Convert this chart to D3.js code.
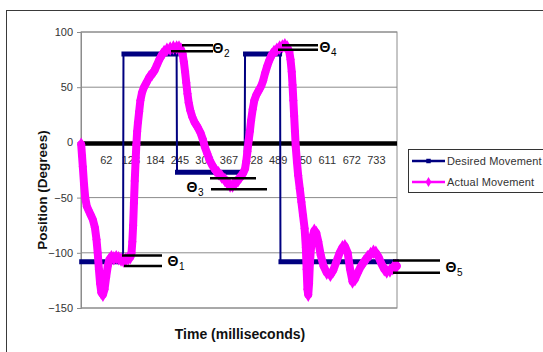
<!DOCTYPE html>
<html>
<head>
<meta charset="utf-8">
<script src="https://cdn.jsdelivr.net/npm/d3@7/dist/d3.min.js"></script>
<style>
  html, body { margin: 0; padding: 0; background: #fff; }
  svg { display: block; }
  text { font-family: "Liberation Sans", Arial, sans-serif; }
</style>
</head>
<body>
<svg id="chart" width="543" height="352"></svg>
<script>
// ---------------- DATA ----------------
const xTickLabels = [1, 62, 123, 184, 245, 306, 367, 428, 489, 550, 611, 672, 733];
const yTickValues = [100, 50, 0, -50, -100, -150];
const sampleCount = 785;

// Desired movement: step segments (first sample, last sample, position)
const desiredStart = [1, 106, 239, 408, 496];
const desiredEnd   = [105, 238, 407, 495, 785];
const desiredPos   = [-108, 80, -27, 80, -108];

// Actual movement: sample index and position (degrees)
const actualTime = [1,3,5,8,11,15,20,25,30,35,39,42,45,48,51,55,59,63,67,71,76,82,88,94,100,106,112,118,123,126,128,130,132,134,136,138,140,142,145,148,152,157,163,170,177,183,189,195,201,207,214,222,230,238,244,249,253,256,259,262,265,268,272,277,283,290,297,303,308,314,320,327,334,342,350,358,365,371,377,384,391,397,403,408,411,414,417,420,423,427,431,436,442,448,453,458,463,468,474,480,487,494,501,507,513,518,521,524,526,528,530,532,534,537,540,544,548,552,556,559,561,563,565,567,569,572,576,580,585,590,596,603,611,620,627,635,643,650,656,663,669,675,681,688,696,704,712,720,727,733,740,747,754,760,768,775,780,785];
const actualPos  = [-2,-12,-22,-38,-50,-58,-62,-66,-70,-77,-88,-100,-115,-128,-136,-138,-133,-122,-112,-106,-104,-105,-104,-105,-106,-107,-106,-105,-104,-100,-90,-75,-55,-35,-18,-2,10,18,28,38,45,50,54,59,62,65,70,75,79,82,84,85,86,86,86,84,80,73,64,54,44,36,29,23,18,14,9,3,-4,-10,-16,-21,-25,-28,-31,-34,-37,-39,-39,-37,-34,-31,-28,-24,-17,-8,2,10,20,30,38,43,47,51,56,63,69,74,79,82,84,86,87,88,86,82,75,64,52,38,24,10,-4,-18,-30,-42,-54,-66,-78,-95,-115,-133,-138,-128,-110,-95,-85,-80,-82,-90,-102,-112,-118,-120,-116,-108,-100,-95,-94,-100,-115,-126,-124,-118,-112,-108,-104,-101,-99,-100,-104,-110,-115,-117,-116,-114,-112,-112];

// Annotation labels (theta markers) with the two positions they bracket
const annoLabels = ["1", "2", "3", "4", "5"];
const annoUpper  = [-102.5, 88, -32.5, 88, -107];
const annoLower  = [-112, 82.5, -42.5, 84, -118];

// ---------------- CHART ----------------
const svg = d3.select("#chart");
const plot = { left: 81, right: 397, top: 32, bottom: 308 };

const x = d3.scaleLinear().domain([0.5, sampleCount + 0.5]).range([plot.left, plot.right]);
const y = d3.scaleLinear().domain([-150, 100]).range([plot.bottom, plot.top]);

// outer chart frame
svg.append("rect").attr("x", 6.5).attr("y", 10.5).attr("width", 600).attr("height", 400)
  .attr("fill", "#fff").attr("stroke", "#3a3a3a").attr("stroke-width", 1);

// plot area
svg.append("rect").attr("x", plot.left).attr("y", plot.top)
  .attr("width", plot.right - plot.left).attr("height", plot.bottom - plot.top)
  .attr("fill", "#fff").attr("stroke", "#8c8c8c").attr("stroke-width", 1);

// gridlines
svg.append("g").selectAll("line").data(yTickValues.filter(v => v !== 0))
  .join("line")
  .attr("x1", plot.left).attr("x2", plot.right)
  .attr("y1", d => y(d)).attr("y2", d => y(d))
  .attr("stroke", "#8c8c8c").attr("stroke-width", 1);

// y axis
const yAxis = svg.append("g").attr("transform", `translate(${plot.left},0)`)
  .call(d3.axisLeft(y).tickValues(yTickValues).tickSize(4).tickPadding(4));
yAxis.select(".domain").attr("stroke", "#8c8c8c");
yAxis.selectAll(".tick line").attr("stroke", "#8c8c8c");
yAxis.selectAll("text").attr("font-size", 11).attr("fill", "#333")
  .attr("font-family", "'Liberation Sans', Arial, sans-serif");

// x axis labels below the zero line
const xAxis = svg.append("g").attr("transform", `translate(0,${y(0)})`)
  .call(d3.axisBottom(x).tickValues(xTickLabels).tickSize(0).tickPadding(14).tickFormat(d3.format("d")));
xAxis.select(".domain").remove();
xAxis.selectAll("text").attr("font-size", 11).attr("fill", "#333")
  .attr("font-family", "'Liberation Sans', Arial, sans-serif");

// thick zero line (category axis)
svg.append("line").attr("x1", plot.left).attr("x2", plot.right)
  .attr("y1", y(0) + 1).attr("y2", y(0) + 1)
  .attr("stroke", "#000").attr("stroke-width", 4.5);

// desired movement
const desiredPts = [];
desiredStart.forEach((s, i) => {
  desiredPts.push([s, desiredPos[i]]);
  desiredPts.push([desiredEnd[i], desiredPos[i]]);
});
svg.append("path").datum(desiredPts)
  .attr("d", d3.line().x(d => x(d[0])).y(d => y(d[1])))
  .attr("fill", "none").attr("stroke", "#000080").attr("stroke-width", 2);
svg.append("g").selectAll("line").data(desiredStart.map((s, i) => i))
  .join("line")
  .attr("x1", i => x(desiredStart[i]) - 2).attr("x2", i => x(desiredEnd[i]) + 2)
  .attr("y1", i => y(desiredPos[i])).attr("y2", i => y(desiredPos[i]))
  .attr("stroke", "#000080").attr("stroke-width", 5);

// actual movement
const actualPts = actualTime.map((t, i) => [t, actualPos[i]]);
svg.append("path").datum(actualPts)
  .attr("d", d3.line().x(d => x(d[0])).y(d => y(d[1])))
  .attr("fill", "none").attr("stroke", "#ff00ff").attr("stroke-width", 8)
  .attr("stroke-linejoin", "round").attr("stroke-linecap", "round");
const diamond = d3.symbol().type(d3.symbolDiamond).size(60);
svg.append("g").selectAll("path").data(actualPts).join("path")
  .attr("transform", d => `translate(${x(d[0])},${y(d[1])})`)
  .attr("d", diamond).attr("fill", "#ff00ff");

// annotations (theta markers)
const annoX1Upper = [122, 182, 210, 282, 393];
const annoX1Lower = [124, 171, 211, 278, 393];
const annoX2Upper = [162, 213, 256, 318, 440];
const annoX2Lower = [162, 213, 267, 318, 440];
const annoSymX    = [173, 218, 192, 325, 451];
const anno = svg.append("g");
annoLabels.forEach((lab, i) => {
  anno.append("line").attr("x1", annoX1Upper[i]).attr("x2", annoX2Upper[i])
    .attr("y1", y(annoUpper[i])).attr("y2", y(annoUpper[i]))
    .attr("stroke", "#000").attr("stroke-width", 2.5);
  anno.append("line").attr("x1", annoX1Lower[i]).attr("x2", annoX2Lower[i])
    .attr("y1", y(annoLower[i])).attr("y2", y(annoLower[i]))
    .attr("stroke", "#000").attr("stroke-width", 2.5);
  const cy = (i === 2) ? y(annoLower[i]) - 2 : (y(annoUpper[i]) + y(annoLower[i])) / 2;
  anno.append("text").attr("x", annoSymX[i]).attr("y", cy + 5)
    .attr("text-anchor", "middle").attr("font-size", 14).attr("font-weight", "bold")
    .attr("fill", "#000").text("Θ");
  anno.append("text").attr("x", annoSymX[i] + 6).attr("y", cy + 9)
    .attr("font-size", 10).attr("fill", "#000").text(lab);
});

// axis titles
svg.append("text").attr("x", 240).attr("y", 339).attr("text-anchor", "middle")
  .attr("font-size", 14).attr("font-weight", "bold").attr("fill", "#111")
  .text("Time (milliseconds)");
svg.append("text").attr("transform", "translate(47,190) rotate(-90)")
  .attr("text-anchor", "middle").attr("font-size", 13.5).attr("font-weight", "bold").attr("fill", "#111")
  .text("Position (Degrees)");

// legend
const lg = svg.append("g");
lg.append("rect").attr("x", 408.5).attr("y", 149.5).attr("width", 200).attr("height", 43)
  .attr("fill", "#fff").attr("stroke", "#333").attr("stroke-width", 1);
const legItems = [
  { name: "Desired Movement", color: "#000080", sym: d3.symbolSquare, size: 20 },
  { name: "Actual Movement", color: "#ff00ff", sym: d3.symbolDiamond, size: 30 }
];
legItems.forEach((it, i) => {
  const ly = 161 + i * 21;
  lg.append("line").attr("x1", 412).attr("x2", 445).attr("y1", ly).attr("y2", ly)
    .attr("stroke", it.color).attr("stroke-width", 2.5);
  lg.append("path").attr("transform", `translate(428.5,${ly})`)
    .attr("d", d3.symbol().type(it.sym).size(it.size)).attr("fill", it.color);
  lg.append("text").attr("x", 447).attr("y", ly + 4).attr("font-size", 11)
    .attr("letter-spacing", 0.15).attr("fill", "#333").text(it.name);
});
</script>
</body>
</html>
